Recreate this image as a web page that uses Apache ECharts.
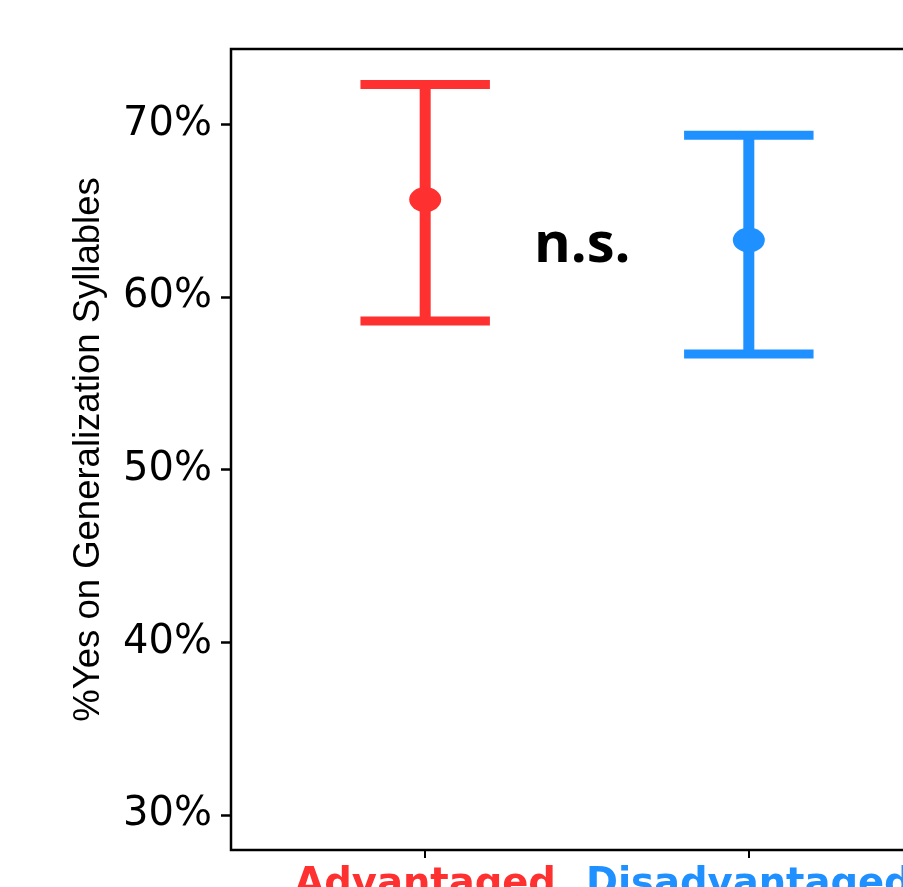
<!DOCTYPE html>
<html>
<head>
<meta charset="utf-8">
<script src="https://cdn.jsdelivr.net/npm/echarts@6/dist/echarts.min.js"></script>
<style>
  html, body { margin: 0; padding: 0; background: #fff; }
  #chart { width: 903px; height: 887px; }
</style>
</head>
<body>
<div id="chart"></div>
<script>
// Groups and their mean with lower / upper interval bounds (percent)
const categories = ['Advantaged', 'Disadvantaged'];
const means = [65.63, 63.29];
const lower = [58.60, 56.69];
const upper = [72.29, 69.36];
const yTicks = [30, 40, 50, 60, 70];
const groupColors = ['#FF3030', '#1E90FF'];

const chart = echarts.init(document.getElementById('chart'), null, { renderer: 'canvas' });

const seriesData = categories.map((c, i) => [i, means[i], lower[i], upper[i]]);

const option = {
  animation: false,
  backgroundColor: '#ffffff',
  grid: {
    left: 231, top: 49, bottom: 37, right: -40,
    outerBoundsMode: 'none',
    containLabel: false,
    show: true, borderColor: '#000', borderWidth: 2.5, backgroundColor: 'transparent'
  },
  xAxis: {
    type: 'value', min: -0.6, max: 1.6,
    axisLine: { show: false, onZero: false },
    splitLine: { show: false },
    axisTick: { show: true, customValues: [0, 1], length: 8, lineStyle: { color: '#000', width: 2 } },
    axisLabel: {
      customValues: [0, 1],
      margin: 15,
      formatter: v => '{g' + v + '|' + categories[v] + '}',
      rich: {
        g0: { color: groupColors[0], fontFamily: 'DejaVu Sans', fontWeight: 'bold', fontSize: 38.5 },
        g1: { color: groupColors[1], fontFamily: 'DejaVu Sans', fontWeight: 'bold', fontSize: 38.5 }
      }
    }
  },
  yAxis: {
    type: 'value', min: 27.97, max: 74.35,
    name: '%Yes on Generalization Syllables',
    nameLocation: 'middle', nameGap: 124, nameRotate: 90,
    nameTextStyle: { fontFamily: 'Liberation Sans', fontSize: 36.5, color: '#000' },
    axisLine: { show: false, onZero: false },
    splitLine: { show: false },
    axisTick: { show: true, customValues: yTicks, length: 10, lineStyle: { color: '#000', width: 2.5 } },
    axisLabel: {
      customValues: yTicks,
      margin: 19,
      formatter: '{value}%',
      fontFamily: 'DejaVu Sans', fontSize: 40, color: '#000'
    }
  },
  graphic: [{
    type: 'text', left: 534, top: 218,
    style: { text: 'n.s.', font: 'bold 56px "Open Sans"', fill: '#000' }
  }],
  series: [{
    type: 'custom',
    data: seriesData,
    clip: false,
    renderItem: function (params, api) {
      const x = api.value(0);
      const color = groupColors[params.dataIndex];
      const pm = api.coord([x, api.value(1)]);
      const pl = api.coord([x, api.value(2)]);
      const ph = api.coord([x, api.value(3)]);
      const half = api.size([0.2, 0])[0];
      return {
        type: 'group',
        children: [
          { type: 'line', shape: { x1: pm[0], y1: ph[1], x2: pm[0], y2: pl[1] },
            style: { stroke: color, lineWidth: 11 } },
          { type: 'line', shape: { x1: pm[0] - half, y1: ph[1], x2: pm[0] + half, y2: ph[1] },
            style: { stroke: color, lineWidth: 9 } },
          { type: 'line', shape: { x1: pm[0] - half, y1: pl[1], x2: pm[0] + half, y2: pl[1] },
            style: { stroke: color, lineWidth: 9 } },
          { type: 'circle', x: pm[0], y: pm[1], scaleX: 1.28,
            shape: { cx: 0, cy: 0, r: 12.5 }, style: { fill: color } }
        ]
      };
    }
  }]
};

chart.setOption(option);
</script>
</body>
</html>
